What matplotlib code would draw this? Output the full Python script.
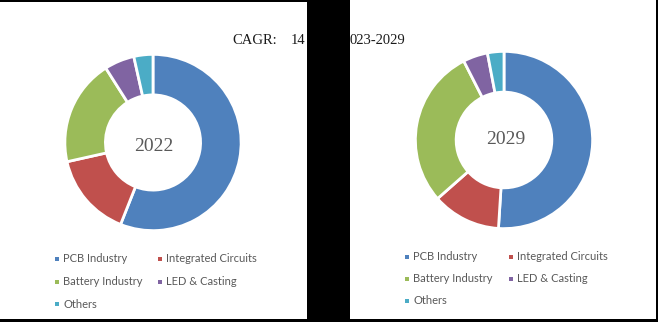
import matplotlib
matplotlib.use("Agg")
import matplotlib.pyplot as plt
from matplotlib.patches import Rectangle

categories = ["PCB Industry", "Integrated Circuits", "Battery Industry", "LED & Casting", "Others"]
share_2022 = [56, 15.5, 19.5, 5.5, 3.5]
share_2029 = [51, 12.5, 29, 4.5, 3]
years = ["2022", "2029"]
colors = ["#4F81BD", "#C0504D", "#9BBB59", "#8064A2", "#4BACC6"]

W, H = 658, 322
fig = plt.figure(figsize=(W / 100, H / 100), dpi=100, facecolor="black")

def px_rect(x0, y0, x1, y1, **kw):
    # pixel coords from top-left
    return Rectangle((x0 / W, 1 - y1 / H), (x1 - x0) / W, (y1 - y0) / H,
                     transform=fig.transFigure, **kw)

# white panels (below the axes)
fig.patches.append(px_rect(0, 2, 307, 319, facecolor="white", edgecolor="none", zorder=-5))
fig.patches.append(px_rect(350, 0, 656, 319, facecolor="white", edgecolor="none", zorder=-5))

def donut(cx, cy, r, values, label, lx, ly):
    ax = fig.add_axes([(cx - r) / W, 1 - (cy + r) / H, 2 * r / W, 2 * r / H])
    ax.set_facecolor("none")
    ax.pie(values, colors=colors, startangle=90, counterclock=False,
           wedgeprops=dict(width=0.46, edgecolor="white", linewidth=2))
    ax.set_xlim(-1.01, 1.01)
    ax.set_ylim(-1.01, 1.01)
    ax.set_aspect("equal")
    ax.axis("off")
    fig.text(lx / W, 1 - ly / H, label, ha="center", va="center",
             family="Liberation Serif", fontsize=14, color="#595959")

donut(153, 142.5, 89, share_2022, years[0], 154, 146)
donut(504, 140, 89.5, share_2029, years[1], 506, 140)

def legend(x_cols, y_rows):
    for i, cat in enumerate(categories):
        row, col = divmod(i, 2)
        mx = x_cols[col]
        my = y_rows[row]
        fig.patches.append(px_rect(mx - 2, my - 2, mx + 2, my + 2,
                                   facecolor=colors[i], edgecolor="none", zorder=3))
        fig.text((mx + 6) / W, 1 - my / H, cat, ha="left", va="center",
                 family="Lato", fontsize=8.0, color="#595959")

legend([57, 160], [258.5, 281.5, 304])
legend([407, 511], [256.5, 279, 301])

# CAGR text
base = 1 - 44 / H
fig.text(232 / W, base, "CAGR:", ha="left", va="baseline",
         family="Liberation Serif", fontsize=10.5, color="#1a1a1a")
fig.text(291 / W, base, "14", ha="left", va="baseline",
         family="Liberation Serif", fontsize=10.5, color="#1a1a1a")
fig.text(350 / W, base, "023-2029", ha="left", va="baseline",
         family="Liberation Serif", fontsize=10.5, color="#1a1a1a")

# black separator band on top of everything
fig.patches.append(px_rect(307, 0, 350, 322, facecolor="black", edgecolor="none", zorder=10))

fig.savefig("out.png", dpi=100, facecolor="black")
